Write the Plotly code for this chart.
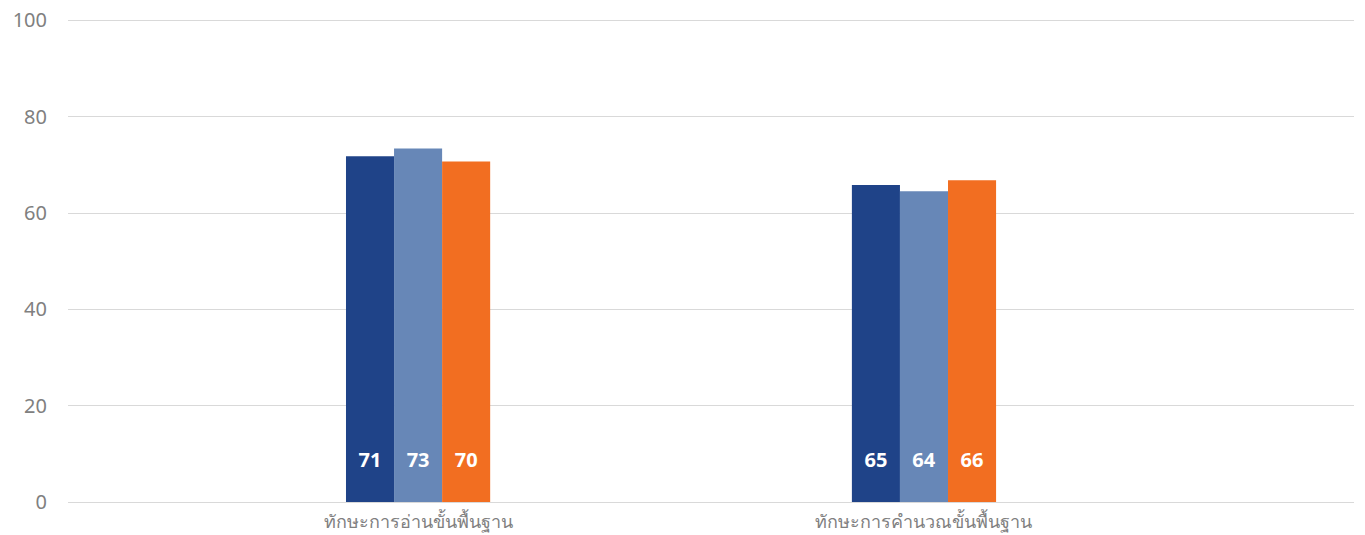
import plotly.graph_objects as go

# ข้อมูล
categories = ["ทักษะการอ่านขั้นพื้นฐาน", "ทักษะการคำนวณขั้นพื้นฐาน"]
series_names = ["ชุดที่ 1", "ชุดที่ 2", "ชุดที่ 3"]
series_1 = [71.8, 65.8]
series_2 = [73.4, 64.5]
series_3 = [70.7, 66.8]
y_ticks = [0, 20, 40, 60, 80, 100]

colors = ["#1F4388", "#6787B7", "#F26E21"]

fig = go.Figure()
for name, vals, col in zip(series_names, [series_1, series_2, series_3], colors):
    fig.add_trace(go.Bar(
        x=categories,
        y=vals,
        name=name,
        marker=dict(color=col, line_width=0),
        text=[str(int(v)) for v in vals],
        texttemplate="%{text}<br> ",
        textposition="inside",
        insidetextanchor="start",
        textangle=0,
        textfont=dict(family="Noto Sans", size=20, color="white", weight="bold"),
        hoverinfo="skip",
    ))

fig.update_layout(
    width=1365,
    height=535,
    autosize=False,
    barmode="group",
    bargap=0.715,
    bargroupgap=0,
    showlegend=False,
    plot_bgcolor="white",
    paper_bgcolor="white",
    font=dict(family="Noto Sans", size=18, color="#808080"),
    margin=dict(l=68, r=11, t=17.6, b=33, autoexpand=False),
    uniformtext=dict(minsize=10, mode="show"),
    xaxis=dict(
        range=[-0.692, 1.850],
        automargin=False,
        showgrid=False,
        showline=False,
        ticks="",
        ticklabelstandoff=7,
        tickfont=dict(size=18, color="#808080"),
    ),
    yaxis=dict(
        range=[0, 100.5],
        automargin=False,
        tickvals=y_ticks,
        showgrid=True,
        gridcolor="#D9D9D9",
        gridwidth=1,
        zeroline=True,
        zerolinecolor="#D9D9D9",
        zerolinewidth=1,
        ticks="",
        ticklabelstandoff=20,
        ticklabeloverflow="allow",
        tickfont=dict(size=20, color="#808080"),
    ),
)

# ตัดขอบ body ของหน้าเว็บออก ให้กราฟเต็มหน้าต่าง
fig.write_html(
    "out.html",
    config={"displayModeBar": False},
    post_script="document.body.style.margin = '0';",
)
